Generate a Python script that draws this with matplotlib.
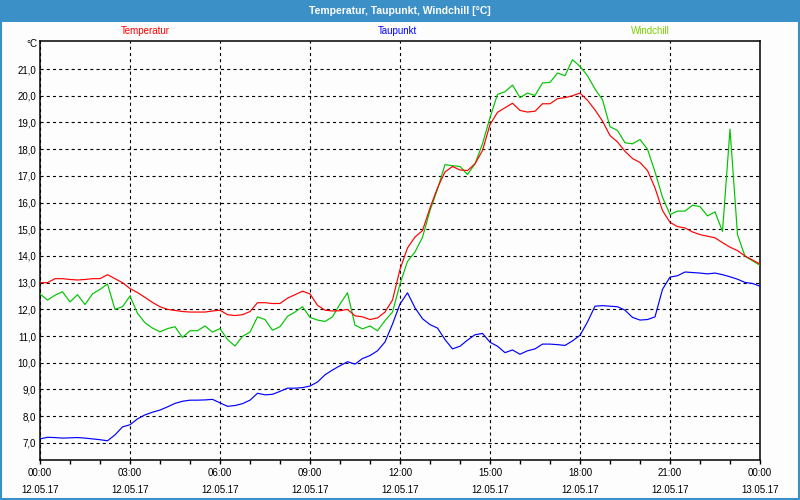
import matplotlib
matplotlib.use("Agg")
import matplotlib.pyplot as plt
import matplotlib.dates as mdates
from matplotlib.patches import Rectangle
import pandas as pd

plt.rcParams['font.family'] = ['Liberation Sans', 'DejaVu Sans']

# 15-minute readings, 12.05.17 00:00 .. 13.05.17 00:00
times = pd.date_range("2017-05-12 00:00", "2017-05-13 00:00", freq="15min")

temperatur = [
    13.0, 13.0, 13.15, 13.15, 13.12, 13.1, 13.12, 13.15, 13.15, 13.3, 13.15, 13.0,
    12.78, 12.63, 12.45, 12.26, 12.1, 12.0, 11.96, 11.92, 11.9, 11.9, 11.9, 11.94,
    11.97, 11.8, 11.77, 11.8, 11.92, 12.25, 12.25, 12.22, 12.22, 12.42, 12.55, 12.68,
    12.58, 12.15, 11.97, 11.94, 11.95, 12.0, 11.76, 11.72, 11.62, 11.68, 11.9, 12.35,
    13.5, 14.3, 14.71, 14.95, 15.8, 16.55, 17.15, 17.35, 17.22, 17.2, 17.45, 17.95,
    18.92, 19.38, 19.55, 19.72, 19.45, 19.39, 19.42, 19.7, 19.7, 19.89, 19.93, 20.0,
    20.1, 19.83, 19.47, 19.05, 18.51, 18.27, 17.92, 17.65, 17.5, 17.2, 16.55, 15.7,
    15.26, 15.1, 15.05, 14.9, 14.8, 14.74, 14.68, 14.5, 14.33, 14.2, 14.0, 13.85,
    13.7,
]

taupunkt = [
    7.15, 7.21, 7.2, 7.18, 7.19, 7.2, 7.18, 7.15, 7.12, 7.08, 7.3, 7.6,
    7.68, 7.9, 8.05, 8.15, 8.23, 8.35, 8.48, 8.56, 8.6, 8.6, 8.61, 8.63,
    8.5, 8.37, 8.4, 8.47, 8.6, 8.86, 8.8, 8.82, 8.93, 9.05, 9.05, 9.07,
    9.13, 9.28, 9.55, 9.73, 9.89, 10.04, 9.95, 10.16, 10.27, 10.45, 10.78, 11.45,
    12.2, 12.62, 12.06, 11.65, 11.43, 11.3, 10.87, 10.52, 10.62, 10.85, 11.05, 11.1,
    10.77, 10.62, 10.38, 10.48, 10.32, 10.45, 10.52, 10.7, 10.7, 10.68, 10.65, 10.82,
    11.03, 11.53, 12.12, 12.14, 12.12, 12.1, 11.97, 11.7, 11.6, 11.62, 11.72, 12.75,
    13.21, 13.26, 13.4, 13.38, 13.36, 13.33, 13.36, 13.3, 13.22, 13.13, 13.01, 12.97,
    12.87,
]

windchill = [
    12.58, 12.35, 12.53, 12.66, 12.28, 12.55, 12.18, 12.58, 12.75, 12.95, 12.0, 12.1,
    12.5, 11.85, 11.5, 11.3, 11.16, 11.28, 11.35, 10.95, 11.2, 11.2, 11.38, 11.15,
    11.28, 10.87, 10.63, 10.99, 11.15, 11.72, 11.62, 11.22, 11.35, 11.74, 11.9, 12.1,
    11.7, 11.6, 11.55, 11.72, 12.2, 12.62, 11.41, 11.27, 11.38, 11.2, 11.58, 11.9,
    12.95, 13.8, 14.15, 14.7, 15.7, 16.5, 17.42, 17.38, 17.35, 17.05, 17.45, 18.2,
    19.18, 20.05, 20.15, 20.4, 19.93, 20.1, 20.01, 20.48, 20.5, 20.85, 20.75, 21.35,
    21.1, 20.75, 20.25, 19.85, 18.84, 18.7, 18.24, 18.2, 18.36, 18.0, 17.15, 16.2,
    15.55, 15.68, 15.68, 15.9, 15.85, 15.5, 15.65, 14.92, 18.75, 14.8, 13.99, 13.82,
    13.65,
]

y_ticks = [7, 8, 9, 10, 11, 12, 13, 14, 15, 16, 17, 18, 19, 20, 21]

BAR_BLUE = '#3C90C8'

fig = plt.figure(figsize=(8, 5), dpi=100, facecolor='#FCFDFC')
ax = fig.add_axes([0.05, 0.08, 0.90, 0.838])
ax.set_facecolor('#FCFDFC')

ax.plot(times, windchill, color='#00C400', lw=0.85, zorder=3)
ax.plot(times, temperatur, color='#FF0000', lw=0.85, zorder=4)
ax.plot(times, taupunkt, color='#0000FF', lw=0.85, zorder=5)

ax.set_xlim(times[0], times[-1])
ax.set_ylim(6.36, 22.05)

ax.set_yticks(y_ticks)
ax.set_yticklabels([f"{v:.1f}".replace('.', ',') for v in y_ticks])
ax.xaxis.set_major_locator(mdates.HourLocator(byhour=range(0, 24, 3)))
ax.xaxis.set_minor_locator(mdates.HourLocator())
ax.xaxis.set_major_formatter(mdates.DateFormatter('%H:%M\n%d.%m.%y'))

ax.tick_params(axis='y', length=0, pad=3, labelsize=7, colors='black')
ax.tick_params(axis='x', which='both', direction='out', length=3, width=1,
               pad=2.5, labelsize=7)
for lbl in ax.get_xticklabels():
    lbl.set_linespacing(1.95)

ax.grid(True, which='major', color='black', lw=0.8, linestyle=(0, (2.8, 2.8)))
for sp in ax.spines.values():
    sp.set_color('black')
    sp.set_linewidth(1.1)

# title bar and frame
fig.patches.append(Rectangle((0, 1 - 22 / 500), 1, 22 / 500, transform=fig.transFigure,
                             facecolor=BAR_BLUE, edgecolor='none', zorder=0))
fig.patches.append(Rectangle((0.001, 0.002), 0.998, 0.997, transform=fig.transFigure,
                             fill=False, edgecolor=BAR_BLUE, lw=1.5))
fig.text(0.5, 1 - 11 / 500, 'Temperatur, Taupunkt, Windchill [°C]', color='white',
         fontsize=7.5, fontweight='bold', ha='center', va='center')

# legend labels
fig.text(145 / 800, 1 - 31 / 500, 'Temperatur', color='#FF0000', fontsize=7,
         ha='center', va='center')
fig.text(397 / 800, 1 - 31 / 500, 'Taupunkt', color='#0000FF', fontsize=7,
         ha='center', va='center')
fig.text(650 / 800, 1 - 31 / 500, 'Windchill', color='#7CD000', fontsize=7,
         ha='center', va='center')
fig.text(37 / 800, 1 - 44 / 500, '°C', color='black', fontsize=7,
         ha='right', va='center')

fig.savefig('out.png', dpi=100, facecolor=fig.get_facecolor())
